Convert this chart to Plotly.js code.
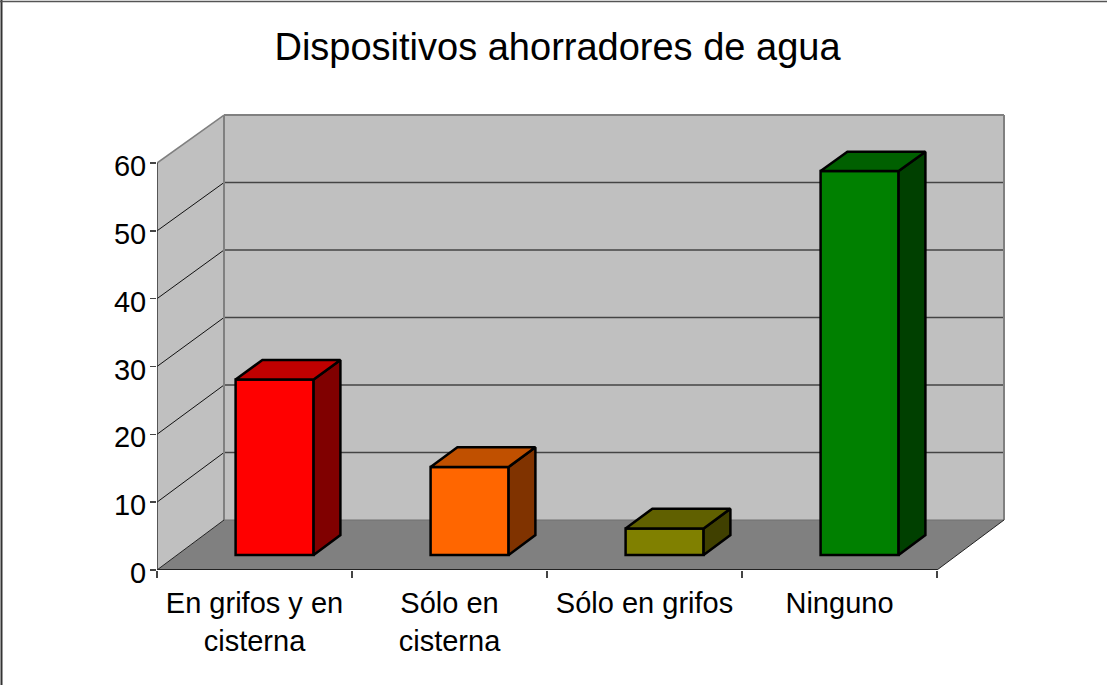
<!DOCTYPE html>
<html>
<head>
<meta charset="utf-8">
<script src="https://cdn.plot.ly/plotly-3.0.1.min.js"></script>
<style>html,body{margin:0;padding:0;background:#fff;overflow:hidden}#chart{width:1107px;height:685px}</style>
</head>
<body>
<div id="chart"></div>
<script>
const chartTitle = 'Dispositivos ahorradores de agua';
const categories = ['En grifos y en<br>cisterna', 'Sólo en<br>cisterna', 'Sólo en grifos', 'Ninguno'];
const values = [25.9, 13, 3.9, 56.7];
const frontColors = ['#ff0000', '#ff6600', '#808000', '#008000'];
const topColors = ['#c00000', '#c05000', '#606000', '#006000'];
const sideColors = ['#800000', '#803300', '#404000', '#004000'];
const yTicks = [0, 10, 20, 30, 40, 50, 60];
const xEdges = [-0.5, 0.5, 1.5, 2.5, 3.5];

// oblique projection: depth t runs from 0 (front of the floor) to 1 (back wall)
const W = 1107, H = 685, L = 157, B = 570, pxPerCat = 195, pxPerUnit = 6.783;
const dX = 67 / pxPerCat, dY = 50 / pxPerUnit, shrink = 0.005;
const xAt = (x, t) => x + t * dX;
const yAt = (v, t) => v * (1 - shrink * t) + t * dY;
const right = 1014, top_ = 105;
const xMin = xEdges[0], xMax = xEdges[4];
const yMax = yTicks[yTicks.length - 1];
const barT0 = 0.3, barT1 = 0.7, barW = 0.4;

function poly(pts) {
  return 'M' + pts.map(p => xAt(p[0], p[2]) + ',' + yAt(p[1], p[2])).join(' L') + ' Z';
}
function seg(a, b, color, width) {
  return {type: 'line', layer: 'below', xref: 'x', yref: 'y',
    x0: xAt(a[0], a[2]), y0: yAt(a[1], a[2]), x1: xAt(b[0], b[2]), y1: yAt(b[1], b[2]),
    line: {color, width}};
}
const shapes = [];
// back wall, side wall, floor
shapes.push({type: 'path', layer: 'below', xref: 'x', yref: 'y', line: {width: 0}, fillcolor: '#c0c0c0',
  path: poly([[xMin, 0, 1], [xMax, 0, 1], [xMax, yMax, 1], [xMin, yMax, 1]])});
shapes.push({type: 'path', layer: 'below', xref: 'x', yref: 'y', line: {width: 0}, fillcolor: '#c0c0c0',
  path: poly([[xMin, 0, 0], [xMin, 0, 1], [xMin, yMax, 1], [xMin, yMax, 0]])});
shapes.push({type: 'path', layer: 'below', xref: 'x', yref: 'y', line: {width: 0}, fillcolor: '#808080',
  path: poly([[xMin, 0, 0], [xMax, 0, 0], [xMax, 0, 1], [xMin, 0, 1]])});
// grid
yTicks.slice(1, -1).forEach(v => {
  shapes.push(seg([xMin, v, 0], [xMin, v, 1], '#111111', 1));
  shapes.push(seg([xMin, v, 1], [xMax, v, 1], '#444444', 1.5));
});
// wall outlines
shapes.push(seg([xMin, 0, 1], [xMin, yMax, 1], '#808080', 2));
shapes.push(seg([xMax, 0, 1], [xMax, yMax, 1], '#808080', 2));
shapes.push(seg([xMin, yMax, 1], [xMax, yMax, 1], '#808080', 2));
shapes.push(seg([xMin, yMax, 0], [xMin, yMax, 1], '#808080', 1.5));
shapes.push(seg([xMin, 0, 1], [xMax, 0, 1], '#707070', 1));
shapes.push(seg([xMin, 0, 0], [xMin, 0, 1], '#222222', 1));
shapes.push(seg([xMax, 0, 0], [xMax, 0, 1], '#222222', 1));
// page frame: left and top edges only
const plotW = right - L, plotH = B - top_;
shapes.push({type: 'line', xref: 'paper', yref: 'paper', x0: (1.5 - L) / plotW, x1: (1.5 - L) / plotW,
  y0: (B - 0) / plotH, y1: (B - H) / plotH, line: {color: '#333333', width: 2}});
shapes.push({type: 'line', xref: 'paper', yref: 'paper', x0: (0 - L) / plotW, x1: (W - L) / plotW,
  y0: (B - 1.5) / plotH, y1: (B - 1.5) / plotH, line: {color: '#555555', width: 1.5}});

const idx = categories.map((_, i) => i);
const traces = [];
traces.push({type: 'bar', x: idx.map(i => xAt(i, barT0)), y: values.map(v => v * (1 - shrink * barT0)),
  base: idx.map(() => yAt(0, barT0)), width: barW,
  marker: {color: frontColors, line: {color: '#000', width: 2.5}}, hoverinfo: 'skip', showlegend: false});
function face(pts, color) {
  return {type: 'scatter', mode: 'lines', fill: 'toself', fillcolor: color,
    x: pts.map(p => xAt(p[0], p[2])), y: pts.map(p => yAt(p[1], p[2])),
    line: {color: '#000', width: 2.5, shape: 'linear'}, hoverinfo: 'skip', showlegend: false, cliponaxis: false};
}
values.forEach((v, i) => {
  const a = i - barW / 2, b = i + barW / 2;
  traces.push(face([[b, 0, barT0], [b, 0, barT1], [b, v, barT1], [b, v, barT0], [b, 0, barT0]], sideColors[i]));
  traces.push(face([[a, v, barT0], [b, v, barT0], [b, v, barT1], [a, v, barT1], [a, v, barT0]], topColors[i]));
});
// axis lines
traces.push({type: 'scatter', mode: 'lines', x: [xMin, xMax], y: [0, 0], line: {color: '#222', width: 2},
  hoverinfo: 'skip', showlegend: false, cliponaxis: false});
traces.push({type: 'scatter', mode: 'lines', x: [xMin, xMin], y: [0, yMax], line: {color: '#333', width: 1.5},
  hoverinfo: 'skip', showlegend: false, cliponaxis: false});

const tickFont = {family: '"Liberation Sans", Arial, sans-serif', size: 29, color: '#000'};
const layout = {
  width: W, height: H, autosize: false,
  paper_bgcolor: '#fff', plot_bgcolor: 'rgba(0,0,0,0)',
  margin: {l: L, r: W - right, t: top_, b: H - B, pad: 0},
  showlegend: false, barmode: 'overlay',
  title: {text: chartTitle, x: 557.5 / W, xref: 'container', xanchor: 'center', y: 1 - 47 / H, yref: 'container', yanchor: 'middle',
    font: {family: '"Liberation Sans", Arial, sans-serif', size: 38, color: '#000'}},
  xaxis: {range: [xMin, xMax + (right - L - (xMax - xMin) * pxPerCat) / pxPerCat], tickmode: 'array', tickvals: idx, ticktext: categories,
    ticks: '', showgrid: false, zeroline: false, showline: false, tickangle: 0, tickfont: tickFont, ticklabelstandoff: 13,
    minor: {tickmode: 'array', tickvals: xEdges, ticks: 'outside', ticklen: 7, tickwidth: 1.5, tickcolor: '#444', showgrid: false}},
  yaxis: {range: [0, (B - top_) / pxPerUnit], tickmode: 'array', tickvals: yTicks, ticks: 'outside', ticklen: 6, tickwidth: 1.5, tickcolor: '#444',
    showgrid: false, zeroline: false, showline: false, tickfont: tickFont, ticklabelstandoff: -2, ticklabelshift: 3},
  shapes
};
Plotly.newPlot('chart', traces, layout, {staticPlot: true, displayModeBar: false});
</script>
</body>
</html>
